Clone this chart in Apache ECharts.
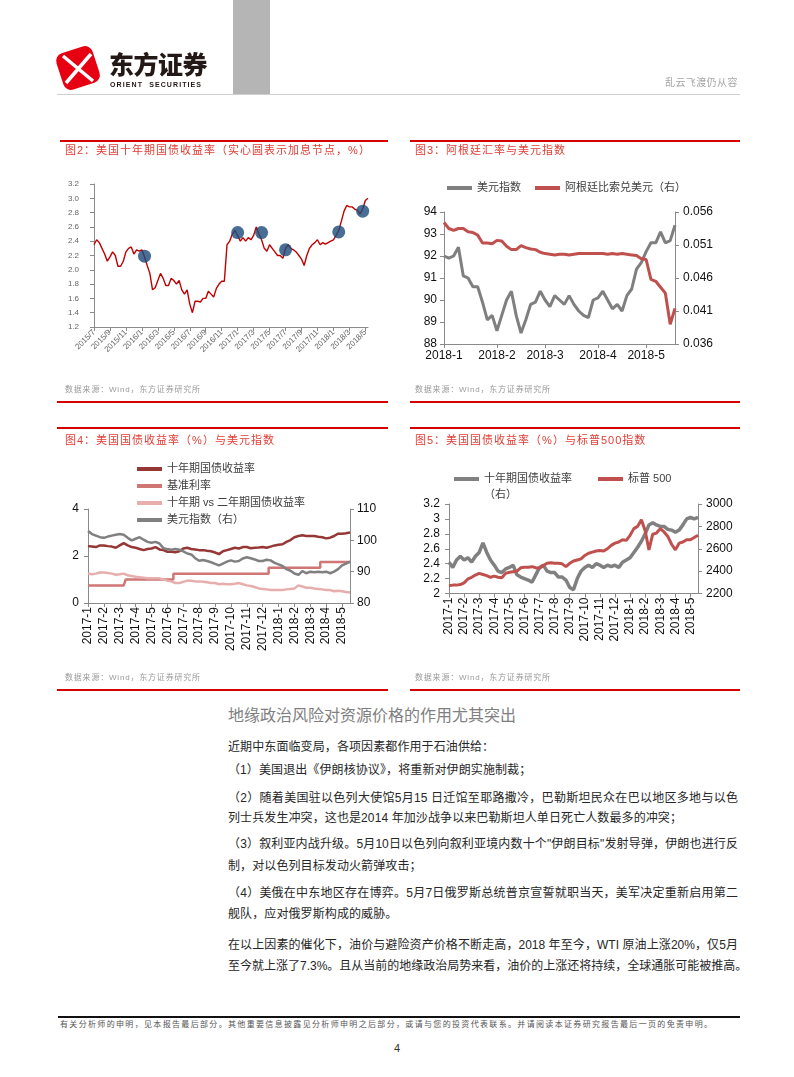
<!DOCTYPE html>
<html><head><meta charset="utf-8">
<script src="https://cdn.jsdelivr.net/npm/echarts@6/dist/echarts.min.js"></script>
<style>
html,body{margin:0;padding:0;background:#fff;}
#page{position:relative;width:794px;height:1077px;overflow:hidden;font-family:"Liberation Sans","Noto Sans CJK SC",sans-serif;background:#fff;}
#chart{position:absolute;left:0;top:0;width:794px;height:700px;}
.a{position:absolute;white-space:nowrap;z-index:2;}
.rl{position:absolute;height:2px;background:#D40000;z-index:2;}
.ttl{font-size:11px;letter-spacing:1px;color:#E23C34;line-height:14px;}
.src{font-size:8px;letter-spacing:0.8px;color:#9a9a9a;line-height:10px;}
.p{position:absolute;left:228px;font-size:12px;color:#262626;white-space:nowrap;line-height:16px;letter-spacing:0.1px;z-index:2;}
.j{width:510px;text-align:justify;text-align-last:justify;letter-spacing:0;}
</style></head>
<body><div id="page">
<div id="chart"></div>

<!-- header -->
<svg class="a" style="left:54px;top:44px" width="48" height="48" viewBox="0 0 48 48">
  <g transform="rotate(-18 24 24)">
    <rect x="5" y="5" width="38" height="38" rx="8" fill="#E60012"/>
  </g>
  <line x1="9" y1="12" x2="39" y2="37" stroke="#fff" stroke-width="3.5"/>
  <line x1="37" y1="10" x2="12" y2="39" stroke="#fff" stroke-width="3.5"/>
</svg>
<div class="a" style="left:109px;top:50px;font-size:25px;font-weight:900;color:#231815;letter-spacing:-0.5px;line-height:30px;">东方证券</div>
<div class="a" style="left:110px;top:80px;font-size:7px;font-weight:bold;color:#231815;letter-spacing:1.1px;line-height:9px;">ORIENT&nbsp; SECURITIES</div>
<div class="a" style="left:233px;top:0;width:37px;height:94px;background:#B5B5B5;"></div>
<div class="a" style="left:57px;top:94px;width:683px;height:1px;background:#cfcfcf;"></div>
<div class="a" style="left:665px;top:77px;font-size:10px;letter-spacing:0.4px;color:#a6a6a6;line-height:12px;">乱云飞渡仍从容</div>

<!-- figure frames -->
<div class="rl" style="left:60px;top:140px;width:328px;"></div>
<div class="rl" style="left:410px;top:140px;width:330px;"></div>
<div class="a ttl" style="left:65px;top:143px;">图2：美国十年期国债收益率（实心圆表示加息节点，%）</div>
<div class="a ttl" style="left:415px;top:143px;">图3：阿根廷汇率与美元指数</div>
<div class="a src" style="left:65px;top:385px;">数据来源：Wind，东方证券研究所</div>
<div class="a src" style="left:415px;top:385px;">数据来源：Wind，东方证券研究所</div>
<div class="rl" style="left:57px;top:401px;width:331px;"></div>
<div class="rl" style="left:410px;top:401px;width:330px;"></div>

<div class="rl" style="left:57px;top:427px;width:331px;"></div>
<div class="rl" style="left:410px;top:427px;width:330px;"></div>
<div class="a ttl" style="left:65px;top:433px;">图4：美国国债收益率（%）与美元指数</div>
<div class="a ttl" style="left:415px;top:433px;">图5：美国国债收益率（%）与标普500指数</div>
<div class="a" style="left:484px;top:487px;font-size:11px;color:#404040;line-height:14px;">（右）</div>
<div class="a src" style="left:65px;top:673px;">数据来源：Wind，东方证券研究所</div>
<div class="a src" style="left:415px;top:673px;">数据来源：Wind，东方证券研究所</div>
<div class="rl" style="left:57px;top:689px;width:331px;"></div>
<div class="rl" style="left:410px;top:689px;width:330px;"></div>

<!-- body text -->
<div class="a" style="left:228px;top:706px;font-size:16px;color:#808080;line-height:20px;">地缘政治风险对资源价格的作用尤其突出</div>
<div class="p" style="top:739px;">近期中东面临变局，各项因素都作用于石油供给：</div>
<div class="p" style="top:762px;">（1）美国退出《伊朗核协议》，将重新对伊朗实施制裁；</div>
<div class="p j" style="top:790px;">（2）随着美国驻以色列大使馆5月15 日迁馆至耶路撒冷，巴勒斯坦民众在巴以地区多地与以色</div>
<div class="p" style="top:810px;">列士兵发生冲突，这也是2014 年加沙战争以来巴勒斯坦人单日死亡人数最多的冲突；</div>
<div class="p j" style="top:836px;">（3）叙利亚内战升级。5月10日以色列向叙利亚境内数十个"伊朗目标"发射导弹，伊朗也进行反</div>
<div class="p" style="top:858px;">制，对以色列目标发动火箭弹攻击；</div>
<div class="p j" style="top:885px;">（4）美俄在中东地区存在博弈。5月7日俄罗斯总统普京宣誓就职当天，美军决定重新启用第二</div>
<div class="p" style="top:906px;">舰队，应对俄罗斯构成的威胁。</div>
<div class="p j" style="top:937px;">在以上因素的催化下，油价与避险资产价格不断走高，2018 年至今，WTI 原油上涨20%，仅5月</div>
<div class="p j" style="top:958px;">至今就上涨了7.3%。且从当前的地缘政治局势来看，油价的上涨还将持续，全球通胀可能被推高。</div>

<!-- footer -->
<div class="a" style="left:58px;top:1016px;width:682px;height:2px;background:#111;"></div>
<div class="a" style="left:60px;top:1020px;width:652px;font-size:8px;color:#555;line-height:10px;text-align:justify;text-align-last:justify;white-space:normal;">有关分析师的申明，见本报告最后部分。其他重要信息披露见分析师申明之后部分，或请与您的投资代表联系。并请阅读本证券研究报告最后一页的免责申明。</div>
<div class="a" style="left:394px;top:1041px;font-size:11px;color:#333;line-height:14px;">4</div>
</div>

<script>
// ---------- Figure 2 data: US 10Y yield (3 readings per month) ----------
const fig2Months = ['2015/7','2015/8','2015/9','2015/10','2015/11','2015/12','2016/1','2016/2','2016/3','2016/4','2016/5','2016/6','2016/7','2016/8','2016/9','2016/10','2016/11','2016/12','2017/1','2017/2','2017/3','2017/4','2017/5','2017/6','2017/7','2017/8','2017/9','2017/10','2017/11','2017/12','2018/1','2018/2','2018/3','2018/4','2018/5'];
const fig2TickLabels = ['2015/7','2015/9','2015/11','2016/1','2016/3','2016/5','2016/7','2016/9','2016/11','2017/1','2017/3','2017/5','2017/7','2017/9','2017/11','2018/1','2018/3','2018/5'];
const fig2Yield = [
 [2.35,2.42,2.38],[2.30,2.22,2.12],[2.18,2.25,2.20],[2.05,2.05,2.12],[2.25,2.30,2.32],[2.22,2.28,2.26],
 [2.28,2.18,2.06],[1.95,1.72,1.75],[1.85,1.95,1.88],[1.78,1.78,1.88],[1.85,1.80,1.85],[1.72,1.66,1.72],
 [1.52,1.40,1.56],[1.56,1.55,1.60],[1.60,1.70,1.66],[1.62,1.74,1.80],[1.84,1.84,2.35],[2.40,2.50,2.55],
 [2.48,2.40,2.45],[2.40,2.45,2.42],[2.48,2.60,2.50],[2.42,2.30,2.26],[2.35,2.30,2.25],[2.20,2.20,2.16],
 [2.30,2.35,2.30],[2.28,2.25,2.20],[2.15,2.06,2.20],[2.30,2.35,2.38],[2.42,2.35,2.38],[2.36,2.38,2.40],
 [2.42,2.48,2.55],[2.68,2.82,2.90],[2.88,2.88,2.85],[2.83,2.78,2.85],[2.97,3.00]
];
const fig2HikePoints = ['2016/1#1','2017/1#0','2017/4#0','2017/7#0','2018/1#2','2018/4#2'];
const fig2HikeValues = [2.19,2.52,2.52,2.28,2.53,2.82];

// ---------- Figure 3 data: DXY and ARS/USD ----------
const fig3Months = ['2018-1','2018-2','2018-3','2018-4','2018-5'];
const fig3Dxy = [
 [92.0,91.9,92.0,92.4,91.1,91.0,90.6,90.6,89.9,89.1,89.3],
 [88.6,89.3,90.0,90.4,89.3,88.5,89.1,89.8,89.9,90.4],
 [90.0,89.7,90.2,90.0,89.8,90.2,89.8,89.5,89.3,89.2,90.0],
 [90.1,90.4,90.0,89.6,89.8,89.5,90.2,90.5,91.4,91.7],
 [92.2,92.6,92.6,93.1,92.6,92.7,93.4]
];
const fig3Ars = [
 [0.0544,0.0535,0.0532,0.0535,0.0535,0.0530,0.0529,0.0525,0.0513,0.0513,0.0512],
 [0.0517,0.0516,0.0508,0.0503,0.0503,0.0509,0.0506,0.0504,0.0503,0.0499],
 [0.0497,0.0496,0.0495,0.0496,0.0496,0.0495,0.0496,0.0497,0.0497,0.0497,0.0497],
 [0.0497,0.0497,0.0496,0.0497,0.0496,0.0497,0.0496,0.0495,0.0494,0.0489],
 [0.0488,0.0458,0.0455,0.0446,0.0437,0.0390,0.0414]
];

// ---------- Figure 4 / 5 data (weekly readings) ----------
const fig45Months = ['2017-1','2017-2','2017-3','2017-4','2017-5','2017-6','2017-7','2017-8','2017-9','2017-10','2017-11','2017-12','2018-1','2018-2','2018-3','2018-4','2018-5'];
const fig4Yield10 = [
 [2.42,2.40,2.38,2.45],[2.45,2.42,2.40,2.35],[2.45,2.55,2.45,2.38],[2.35,2.30,2.25,2.30],
 [2.32,2.38,2.28,2.25],[2.18,2.18,2.16,2.20],[2.32,2.35,2.30,2.28],[2.25,2.25,2.22,2.20],
 [2.15,2.08,2.20,2.25],[2.30,2.35,2.32,2.38],[2.38,2.33,2.35,2.36],[2.38,2.35,2.40,2.45],
 [2.48,2.50,2.60,2.68],[2.80,2.85,2.88,2.85],[2.85,2.85,2.82,2.80],[2.75,2.78,2.85,2.95],[2.95,2.97,3.00]
];
const fig4FedRate = [
 [0.75,0.75,0.75,0.75],[0.75,0.75,0.75,0.75],[0.75,0.75,1.00,1.00],[1.00,1.00,1.00,1.00],
 [1.00,1.00,1.00,1.00],[1.00,1.00,1.25,1.25],[1.25,1.25,1.25,1.25],[1.25,1.25,1.25,1.25],
 [1.25,1.25,1.25,1.25],[1.25,1.25,1.25,1.25],[1.25,1.25,1.25,1.25],[1.25,1.25,1.50,1.50],
 [1.50,1.50,1.50,1.50],[1.50,1.50,1.50,1.50],[1.50,1.50,1.50,1.75],[1.75,1.75,1.75,1.75],[1.75,1.75,1.75]
];
const fig4Spread = [
 [1.25,1.22,1.25,1.30],[1.30,1.28,1.25,1.20],[1.22,1.25,1.18,1.15],[1.12,1.10,1.08,1.05],
 [1.05,1.05,1.05,1.00],[0.95,0.92,0.85,0.85],[0.90,0.95,0.95,0.92],[0.92,0.90,0.88,0.85],
 [0.85,0.80,0.82,0.80],[0.80,0.82,0.85,0.80],[0.75,0.72,0.68,0.62],[0.60,0.58,0.55,0.55],
 [0.55,0.55,0.58,0.60],[0.62,0.75,0.70,0.65],[0.65,0.62,0.60,0.58],[0.55,0.55,0.50,0.52],[0.50,0.47,0.45]
];
const fig4Dxy = [
 [103.0,102.0,101.5,101.0],[100.8,101.2,101.5,101.8],[102.0,101.8,100.8,100.0],[100.5,101.0,100.2,99.5],
 [99.2,99.5,99.0,97.5],[97.2,97.0,97.2,97.0],[96.5,95.8,95.5,94.3],[93.5,93.7,93.4,93.0],
 [92.5,92.0,92.6,93.2],[93.6,93.2,93.4,94.2],[94.6,94.3,93.9,93.4],[93.4,93.8,93.6,92.8],
 [92.3,91.8,90.8,90.3],[89.4,89.0,90.2,89.5],[90.0,89.8,90.0,89.8],[90.0,89.5,90.0,90.8],[92.0,92.6,93.2]
];
const fig5Yield10 = [
 [2.42,2.35,2.45,2.50],[2.45,2.48,2.42,2.50],[2.55,2.68,2.55,2.45],[2.38,2.30,2.28,2.33],
 [2.35,2.38,2.25,2.22],[2.20,2.18,2.15,2.25],[2.35,2.38,2.30,2.28],[2.28,2.22,2.22,2.18],
 [2.08,2.05,2.20,2.30],[2.35,2.38,2.35,2.40],[2.38,2.35,2.38,2.36],[2.38,2.35,2.42,2.45],
 [2.48,2.55,2.62,2.70],[2.80,2.92,2.95,2.92],[2.90,2.90,2.86,2.85],[2.82,2.85,2.92,3.00],[3.02,3.00,3.02]
];
const fig5Spx = [
 [2270,2275,2275,2280],[2295,2330,2345,2365],[2380,2370,2360,2345],[2355,2345,2340,2380],
 [2390,2395,2400,2430],[2435,2435,2440,2430],[2425,2450,2470,2475],[2470,2470,2465,2440],
 [2470,2490,2500,2510],[2540,2560,2570,2580],[2585,2580,2600,2630],[2650,2660,2680,2675],
 [2720,2780,2800,2860],[2760,2590,2730,2740],[2780,2750,2710,2640],[2590,2650,2660,2680],[2680,2700,2720]
];

// ---------- helpers ----------
function buildCats(months, groups){const c=[];groups.forEach((g,m)=>g.forEach((v,k)=>c.push(months[m]+'#'+k)));return c;}
const flat = g => g.flat();
const monthOf = v => v.split('#')[0];
const isFirst = v => v.split('#')[1]==='0';

const cats2 = buildCats(fig2Months, fig2Yield);
const cats3 = buildCats(fig3Months, fig3Dxy);
const cats45 = buildCats(fig45Months, fig4Yield10);

const FONT = "'Liberation Sans','Noto Sans CJK SC',sans-serif";
const axisGray = '#8a8a8a';

function catAxis(gridIndex, data, showFn, label){
  return {type:'category', gridIndex, data, boundaryGap:false,
    axisLine:{show:true,lineStyle:{color:axisGray,width:1}},
    axisTick:{show:true,length:4,interval:(i,v)=>showFn(v),lineStyle:{color:axisGray}},
    axisLabel:Object.assign({interval:(i,v)=>showFn(v),formatter:monthOf,fontFamily:FONT},label),
    splitLine:{show:false}};
}
function valAxis(gridIndex, min, max, interval, pos, label){
  return {type:'value', gridIndex, min, max, interval, position:pos,
    axisLine:{show:true,lineStyle:{color:axisGray,width:1}},
    axisTick:{show:true,length:4,lineStyle:{color:axisGray}},
    axisLabel:Object.assign({fontFamily:FONT, formatter:v=>String(v)},label),
    splitLine:{show:false}};
}
function lineS(name, data, x, y, color, width, extra){
  return Object.assign({type:'line', name, data, xAxisIndex:x, yAxisIndex:y, showSymbol:false, symbol:'none',
    lineStyle:{color, width}, itemStyle:{color}, animation:false}, extra||{});
}
function legend(name, left, top, fmt){
  return {data:[name], left, top, orient:'horizontal', padding:0, icon:'rect', itemWidth:25, itemHeight:4,
    selectedMode:false, formatter:fmt||'{name}',
    textStyle:{fontSize:11, color:'#404040', fontFamily:FONT, lineHeight:14}};
}

const chart = echarts.init(document.getElementById('chart'), null, {renderer:'canvas'});
chart.setOption({
  animation:false,
  backgroundColor:'transparent',
  textStyle:{fontFamily:FONT},
  grid:[
    {left:94, top:184, width:274, height:143, outerBoundsMode:'none'},
    {left:444, top:212, width:231, height:132, outerBoundsMode:'none'},
    {left:88, top:509, width:262, height:94, outerBoundsMode:'none'},
    {left:449, top:504, width:249, height:89.5, outerBoundsMode:'none'}
  ],
  legend:[
    {data:['美元指数','阿根廷比索兑美元（右）'], left:447, top:181, padding:0, icon:'rect', itemWidth:25, itemHeight:4, itemGap:14, selectedMode:false,
      textStyle:{fontSize:11,color:'#404040',fontFamily:FONT,lineHeight:14}},
    legend('十年期国债收益率',137,462),
    legend('基准利率',137,479),
    legend('十年期 vs 二年期国债收益率',137,496),
    legend('美元指数（右）',137,513),
    legend('十年期国债收益率（右）',454,472,n=>n.replace('（右）','')),
    legend('标普 500',598,472)
  ],
  xAxis:[
    catAxis(0, cats2, v=>isFirst(v)&&fig2TickLabels.includes(monthOf(v)), {rotate:45, fontSize:8, color:'#666', margin:4}),
    catAxis(1, cats3, v=>isFirst(v), {fontSize:12, color:'#111', margin:6}),
    catAxis(2, cats45, v=>isFirst(v), {rotate:90, fontSize:12, color:'#111', margin:4}),
    catAxis(3, cats45, v=>isFirst(v), {rotate:90, fontSize:12, color:'#111', margin:4})
  ],
  yAxis:[
    valAxis(0, 1.2, 3.2, 0.2, 'left', {fontSize:8, color:'#666', margin:15, formatter:v=>v.toFixed(1)}),
    valAxis(1, 88, 94, 1, 'left', {fontSize:12, color:'#111', margin:7}),
    valAxis(1, 0.036, 0.056, 0.005, 'right', {fontSize:12, color:'#111', margin:8, formatter:v=>v.toFixed(3)}),
    valAxis(2, 0, 4, 2, 'left', {fontSize:12, color:'#111', margin:9}),
    valAxis(2, 80, 110, 10, 'right', {fontSize:12, color:'#111', margin:7}),
    valAxis(3, 2, 3.2, 0.2, 'left', {fontSize:12, color:'#111', margin:9, formatter:v=>String(+v.toFixed(1))}),
    valAxis(3, 2200, 3000, 200, 'right', {fontSize:12, color:'#111', margin:8, formatter:v=>String(v)})
  ],
  series:[
    lineS('美国十年期国债收益率', flat(fig2Yield), 0, 0, '#C00000', 1.4),
    {type:'scatter', name:'加息节点', xAxisIndex:0, yAxisIndex:0, symbolSize:13, z:5,
      itemStyle:{color:'#1B4A78'}, data:fig2HikePoints.map((c,i)=>[c, fig2HikeValues[i]])},
    lineS('美元指数', flat(fig3Dxy), 1, 1, '#7F7F7F', 3),
    lineS('阿根廷比索兑美元（右）', flat(fig3Ars), 1, 2, '#C0504D', 3),
    lineS('十年期国债收益率', flat(fig4Yield10), 2, 3, '#953735', 2.5),
    lineS('基准利率', flat(fig4FedRate), 2, 3, '#D07674', 2.5, {step:'middle'}),
    lineS('十年期 vs 二年期国债收益率', flat(fig4Spread), 2, 3, '#E6AEAC', 2.5),
    lineS('美元指数（右）', flat(fig4Dxy), 2, 4, '#808080', 2.5),
    lineS('十年期国债收益率（右）', flat(fig5Yield10), 3, 5, '#808080', 3.5),
    lineS('标普 500', flat(fig5Spx), 3, 6, '#C0504D', 3)
  ]
});
</script>
</body></html>
